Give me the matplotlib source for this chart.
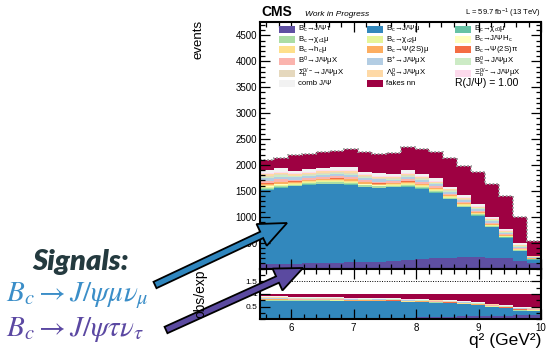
import matplotlib.pyplot as plt
import numpy as np
from matplotlib.patches import Rectangle, FancyArrow
from matplotlib.ticker import MultipleLocator, FixedLocator, FuncFormatter

plt.rcParams['font.family'] = ['Liberation Sans', 'DejaVu Sans']
plt.rcParams['mathtext.fontset'] = 'custom'
plt.rcParams['mathtext.rm'] = 'Liberation Sans'
plt.rcParams['mathtext.it'] = 'Liberation Sans:italic'
plt.rcParams['mathtext.bf'] = 'Liberation Sans:bold'

# q^2 binning
q2_lo, q2_hi, n_bins = 5.5, 10.0, 20

# events per bin (bottom to top)
bc_jpsi_tau = [83, 89, 96, 102, 108, 115, 121, 127, 134, 146, 165, 180, 195, 210, 220, 220, 212, 195, 150, 100]
bc_jpsi_mu = [1439, 1465, 1490, 1516, 1523, 1516, 1497, 1446, 1420, 1421, 1415, 1360, 1270, 1130, 970, 798, 588, 400, 188, 73]
bc_chic0_mu = [11, 11, 9, 9, 10, 10, 10, 9, 9, 8, 10, 9, 8, 7, 7, 7, 6, 5, 4, 2]
bc_chic1_mu = [31, 31, 24, 24, 25, 27, 27, 24, 23, 21, 26, 23, 22, 19, 18, 18, 16, 14, 12, 6]
bc_chic2_mu = [19, 19, 15, 15, 16, 17, 17, 15, 14, 13, 16, 15, 14, 12, 11, 11, 10, 9, 7, 4]
bc_jpsi_hc = [8, 8, 6, 6, 6, 7, 7, 6, 6, 5, 6, 6, 6, 5, 4, 4, 4, 3, 3, 2]
bc_hc_mu = [15, 15, 12, 12, 13, 13, 13, 12, 11, 10, 13, 12, 11, 10, 9, 9, 8, 7, 6, 3]
bc_psi2s_mu = [31, 31, 24, 24, 25, 27, 27, 24, 23, 21, 26, 23, 22, 19, 18, 18, 16, 14, 12, 6]
bc_psi2s_pi = [8, 8, 6, 6, 6, 7, 7, 6, 6, 5, 6, 6, 6, 5, 4, 4, 4, 3, 3, 2]
b0_jpsi_mux = [46, 46, 36, 37, 38, 40, 40, 36, 34, 31, 38, 35, 34, 29, 27, 27, 24, 21, 18, 9]
bp_jpsi_mux = [53, 53, 42, 43, 45, 47, 47, 42, 40, 37, 45, 41, 39, 34, 31, 31, 28, 24, 20, 11]
bs_jpsi_mux = [23, 23, 18, 18, 19, 20, 20, 18, 17, 16, 19, 18, 17, 15, 13, 13, 12, 10, 9, 5]
sigmab_jpsi_mux = [19, 19, 15, 15, 16, 17, 17, 15, 14, 13, 16, 15, 14, 12, 11, 11, 10, 9, 7, 4]
lambdab_jpsi_mux = [31, 31, 24, 24, 25, 27, 27, 24, 23, 21, 26, 23, 22, 19, 18, 18, 16, 14, 12, 6]
xib_jpsi_mux = [23, 23, 18, 18, 19, 20, 20, 18, 17, 16, 19, 18, 17, 15, 13, 13, 12, 10, 9, 5]
comb_jpsi = [64, 64, 50, 55, 55, 58, 58, 51, 50, 44, 53, 49, 48, 41, 39, 39, 31, 29, 24, 11]
fakes_nn = [192, 191, 300, 280, 299, 293, 344, 369, 363, 395, 456, 479, 510, 553, 570, 617, 635, 627, 507, 281]

labels = [r'B$_\mathrm{c}$→J/Ψτ', r'B$_\mathrm{c}$→J/Ψμ', r'B$_\mathrm{c}$→χ$_\mathrm{c0}$μ',
          r'B$_\mathrm{c}$→χ$_\mathrm{c1}$μ', r'B$_\mathrm{c}$→χ$_\mathrm{c2}$μ', r'B$_\mathrm{c}$→J/ΨH$_\mathrm{c}$',
          r'B$_\mathrm{c}$→h$_\mathrm{c}$μ', r'B$_\mathrm{c}$→Ψ(2S)μ', r'B$_\mathrm{c}$→Ψ(2S)π',
          r'B$^\mathrm{0}$→J/ΨμX', r'B$^\mathrm{+}$→J/ΨμX', r'B$_\mathrm{s}^\mathrm{0}$→J/ΨμX',
          r'Σ$_\mathrm{b}^\mathrm{0/-}$→J/ΨμX', r'Λ$_\mathrm{b}^\mathrm{0}$→J/ΨμX', r'Ξ$_\mathrm{b}^\mathrm{0/-}$→J/ΨμX',
          'comb J/Ψ', 'fakes nn']
colors = ['#5e4fa2', '#3288bd', '#66c2a5', '#abdda4', '#e6f598', '#ffffbf', '#fee08b', '#fdae61', '#f46d43',
          '#fbb4ae', '#b3cde3', '#ccebc5', '#e5d8bd', '#fed9a6', '#fddaec', '#f2f2f2', '#9e0142']
stack = [bc_jpsi_tau, bc_jpsi_mu, bc_chic0_mu, bc_chic1_mu, bc_chic2_mu, bc_jpsi_hc, bc_hc_mu,
         bc_psi2s_mu, bc_psi2s_pi, b0_jpsi_mux, bp_jpsi_mux, bs_jpsi_mux, sigmab_jpsi_mux,
         lambdab_jpsi_mux, xib_jpsi_mux, comb_jpsi, fakes_nn]

W, H = 549, 356


def box(l, t, r, b):
    return [l / W, 1 - b / H, (r - l) / W, (b - t) / H]


fig = plt.figure(figsize=(W / 100, H / 100), dpi=100)
ax = fig.add_axes(box(260, 22, 541, 268.5))
rax = fig.add_axes(box(260, 268.5, 541, 319.3))

edges = np.linspace(q2_lo, q2_hi, n_bins + 1)
total = np.sum(np.array(stack, dtype=float), axis=0)

bottom = np.zeros(n_bins)
for vals, c in zip(stack, colors):
    v = np.array(vals, dtype=float)
    ax.stairs(bottom + v, edges, baseline=bottom.copy(), fill=True, color=c, lw=0)
    rax.stairs((bottom + v) / total, edges, baseline=bottom / total, fill=True, color=c, lw=0)
    bottom += v
ax.stairs(total, edges, baseline=None, color='0.6', ls=(0, (1, 1)), lw=1.3)
rax.axhline(1.5, color='black', ls=(0, (1, 1.5)), lw=0.7)

ax.set_xlim(q2_lo, q2_hi)
ax.set_ylim(0, 4760)
rax.set_xlim(q2_lo, q2_hi)
rax.set_ylim(0, 2)

for a in (ax, rax):
    a.xaxis.set_major_locator(MultipleLocator(1))
    a.xaxis.set_minor_locator(MultipleLocator(0.2))
    a.tick_params(which='both', direction='in', top=True, right=True, width=0.9)
    a.tick_params(which='major', length=7, pad=2)
    a.tick_params(which='minor', length=3.5)
    for s in a.spines.values():
        s.set_linewidth(1.5)
ax.tick_params(labelbottom=False, labelsize=7)
ax.yaxis.set_major_locator(MultipleLocator(500))
ax.yaxis.set_minor_locator(MultipleLocator(100))
ax.yaxis.set_major_formatter(FuncFormatter(lambda v, p: '' if v == 0 else '%d' % v))
rax.yaxis.set_major_locator(FixedLocator([0.5, 1, 1.5]))
rax.yaxis.set_minor_locator(MultipleLocator(0.25))
rax.yaxis.set_major_formatter(FuncFormatter(lambda v, p: '%g' % v))
rax.tick_params(axis='y', labelsize=6)
rax.tick_params(axis='x', labelsize=7, pad=3)


def px(x, y):
    return x / W, 1 - y / H


# header
fig.text(*px(261, 16.5), 'CMS', fontsize=10, fontweight='bold', va='baseline')
fig.text(*px(305, 15.5), 'Work in Progress', fontsize=6, style='italic', va='baseline')
fig.text(*px(541, 15.5), r'L = 59.7 fb$^\mathrm{-1}$ (13 TeV)', fontsize=5.5, ha='right', va='baseline')

# legend
col_x = [279, 367, 455]
row_y = [29, 39.2, 49.4, 61, 73.2, 83.5]
for i, (lab, c) in enumerate(zip(labels, colors)):
    r, k = divmod(i, 3)
    xx, yy = col_x[k], row_y[r]
    fig.patches.append(Rectangle(px(xx, yy + 3.5), 16 / W, 7 / H, transform=fig.transFigure,
                                 facecolor=c, edgecolor='none'))
    fig.text(*px(xx + 19, yy), lab, fontsize=5.6, va='center')
fig.text(*px(455, 83.5), 'R(J/Ψ) = 1.00', fontsize=7.5, va='center')

# axis titles
fig.text(*px(199, 20), 'events', fontsize=9.5, rotation=90, ha='center', va='top')
fig.text(*px(200, 294), 'obs/exp', fontsize=10, rotation=90, ha='center', va='center')
fig.text(*px(541, 345), 'q² (GeV²)', fontsize=12.5, ha='right', va='baseline')

# signal annotations
oax = fig.add_axes([0, 0, 1, 1])
oax.set_xlim(0, W)
oax.set_ylim(H, 0)
oax.axis('off')
oax.add_patch(FancyArrow(155, 285, 132, -62, width=7, head_width=24, head_length=28,
                         length_includes_head=True, fc='#2f86be', ec='black', lw=1.3))
oax.add_patch(FancyArrow(166, 330, 137, -62, width=7, head_width=24, head_length=28,
                         length_includes_head=True, fc='#5b4aa0', ec='black', lw=1.3))
oax.text(81, 262, 'Signals:', fontfamily='Lato', fontweight='heavy', style='italic',
         fontsize=21, color='#243a3f', ha='center', va='center')
oax.text(6, 296, r'$B_c \rightarrow J/\psi\mu\nu_\mu$', math_fontfamily='stix', fontsize=21,
         color='#3b8ec8', va='center')
oax.text(6, 330, r'$B_c \rightarrow J/\psi\tau\nu_\tau$', math_fontfamily='stix', fontsize=21,
         color='#5b48a2', va='center')

fig.savefig('out.png', dpi=100)
